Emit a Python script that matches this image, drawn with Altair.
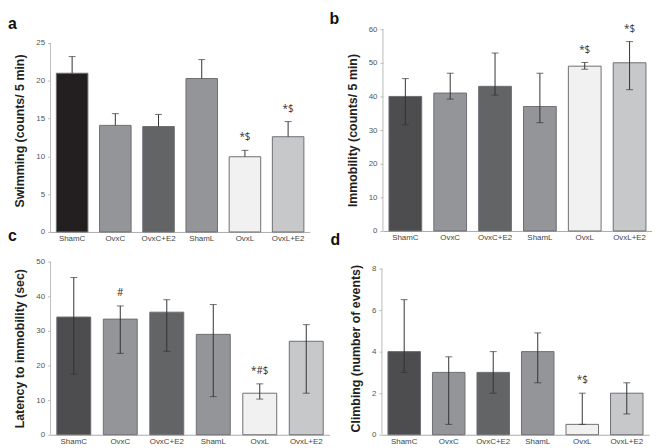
import altair as alt
import pandas as pd

groups = ["ShamC", "OvxC", "OvxC+E2", "ShamL", "OvxL", "OvxL+E2"]
colors_a = ["#231f20", "#939598", "#636466", "#939598", "#f1f1f2", "#c7c8ca"]
colors_bcd = ["#4d4d4f", "#939598", "#636466", "#939598", "#f1f1f2", "#c7c8ca"]

# a: Swimming (only upper whisker)
swim_mean = [21.0, 14.1, 13.95, 20.3, 9.95, 12.6]
swim_upper = [23.2, 15.65, 15.55, 22.8, 10.8, 14.6]
swim_note = ["", "", "", "", "*$", "*$"]

# b: Immobility
immob_mean = [40, 41, 43, 37, 49, 50]
immob_lower = [31.6, 39.2, 40.4, 32.2, 48.1, 42.0]
immob_upper = [45.3, 46.9, 52.9, 46.9, 50.1, 56.3]
immob_note = ["", "", "", "", "*$", "*$"]

# c: Latency to immobility
lat_mean = [34.0, 33.4, 35.4, 29.0, 12.0, 27.0]
lat_lower = [17.5, 23.5, 24.1, 11.0, 10.3, 12.0]
lat_upper = [45.4, 37.2, 39.0, 37.6, 14.7, 31.8]
lat_note = ["", "#", "", "", "*#$", ""]

# d: Climbing
climb_mean = [4, 3, 3, 4, 0.5, 2]
climb_lower = [3, 0.5, 2, 2.5, 0.5, 1]
climb_upper = [6.5, 3.75, 4, 4.9, 2, 2.5]
climb_note = ["", "", "", "", "*$", ""]

FONT = "Liberation Sans"


def panel(letter, mean, lower, upper, note, colors, ymax, ytop, ystep, ytitle,
          w, h, dx, offset, lower_caps=True):
    df = pd.DataFrame({"group": groups, "mean": mean, "lower": lower,
                       "upper": upper, "note": note, "fill": colors})
    xs = alt.Scale(paddingInner=0.27, paddingOuter=0.135)
    xaxis = alt.Axis(labelAngle=0, ticks=False, domainColor="#aaaaaa",
                     labelFontSize=8, labelColor="#444444", labelFont=FONT,
                     labelPadding=3, title=None)
    x = alt.X("group:N", sort=groups, title=None, scale=xs, axis=xaxis)
    yscale = alt.Scale(domain=[0, ytop], nice=False, zero=True)
    yaxis = alt.Axis(values=list(range(0, ymax + 1, ystep)), grid=False,
                     labelOverlap=False, domain=False,
                     tickColor="#bbbbbb", tickSize=3,
                     labelFontSize=8, labelColor="#555555", labelFont=FONT,
                     labelPadding=3, title=ytitle, titleFontSize=12.5,
                     titleFontWeight="bold", titleColor="#231f20",
                     titleFont=FONT, titlePadding=9)

    def Y(field):
        return alt.Y(field, scale=yscale, axis=yaxis, title=ytitle)

    base = alt.Chart(df)
    axis_line = alt.Chart(pd.DataFrame({"lo": [0], "hi": [ymax]})).mark_rule(
        color="#bbbbbb", strokeWidth=1).encode(
        x=alt.value(0), y=Y("lo:Q"), y2="hi:Q")
    bars = base.mark_bar(stroke="#6d6e71", strokeWidth=1).encode(
        x=x, y=Y("mean:Q"), fill=alt.Fill("fill:N", scale=None))
    rule = base.mark_rule(color="#333333", strokeWidth=1).encode(
        x=x, y=Y("lower:Q"), y2="upper:Q")
    cap_hi = base.mark_tick(color="#333333", thickness=1, size=7).encode(
        x=x, y=Y("upper:Q"))
    layers = [axis_line, bars, rule, cap_hi]
    if lower_caps:
        cap_lo = base.mark_tick(color="#333333", thickness=1, size=7).encode(
            x=x, y=Y("lower:Q"))
        layers.append(cap_lo)
    notes = base.mark_text(font="Open Sans", fontSize=10, color="#333333",
                           dy=-13, baseline="middle").encode(
        x=x, y=Y("upper:Q"), text="note:N")
    layers.append(notes)
    return alt.layer(*layers).properties(
        width=w, height=h,
        title=alt.TitleParams(letter, anchor="start", frame="group", dx=dx,
                              fontSize=16, fontWeight="bold", font=FONT,
                              color="#111111", offset=offset),
    )


pa = panel("a", swim_mean, swim_mean, swim_upper, swim_note, colors_a, 25, 26.83, 5,
           "Swimming (counts/ 5 min)", 262, 205, -43, -3, lower_caps=False)
pb = panel("b", immob_mean, immob_lower, immob_upper, immob_note, colors_bcd, 60, 60, 10,
           "Immobility (counts/ 5 min)", 272, 204, -54, -3)
pc = panel("c", lat_mean, lat_lower, lat_upper, lat_note, colors_bcd, 50, 50, 10,
           "Latency to immobility (sec)", 282, 175, -43, 14)
pd_ = panel("d", climb_mean, climb_lower, climb_upper, climb_note, colors_bcd, 8, 8.33, 2,
            "Climbing (number of events)", 270, 175, -52, 14)

row1 = alt.hconcat(pa, pb, spacing=20)
row2 = alt.hconcat(pc, pd_, spacing=1)
chart = alt.vconcat(row1, row2, spacing=-15).properties(padding=0).configure_view(
    stroke=None)

chart.save("out.html", embed_options={"renderer": "svg", "actions": False})
